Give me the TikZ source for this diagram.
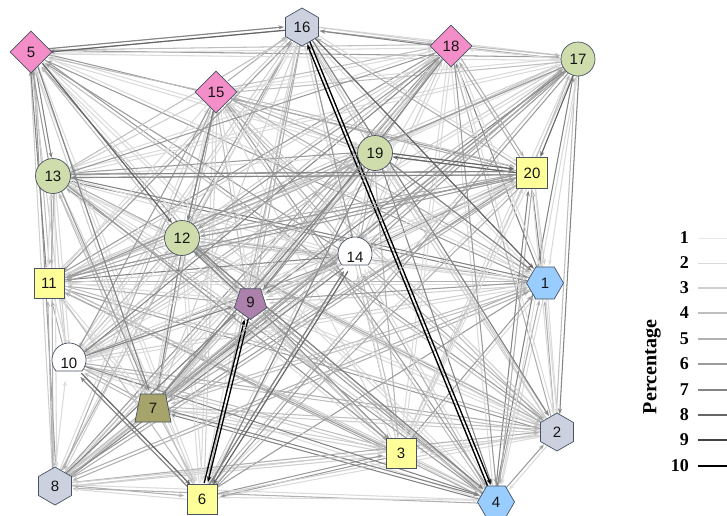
\documentclass[tikz,border=0pt]{standalone}
\usepackage{fontspec}
\setmainfont{Liberation Serif}
\newfontfamily\nodefont{Liberation Sans}
\usetikzlibrary{shapes.geometric,arrows.meta,calc}
\pgfdeclarelayer{bg}
\pgfsetlayers{bg,main}
\definecolor{bordercol}{RGB}{72,82,98}
\definecolor{gcol}{RGB}{206,221,171}
\definecolor{pcol}{RGB}{244,142,200}
\definecolor{ycol}{RGB}{255,255,153}
\definecolor{hcol}{RGB}{204,209,224}
\definecolor{bcol}{RGB}{153,204,255}
\definecolor{ucol}{RGB}{172,130,172}
\definecolor{ocol}{RGB}{166,164,106}
\colorlet{lv1}{black!9}
\colorlet{lv2}{black!14}
\colorlet{lv3}{black!19}
\colorlet{lv4}{black!25}
\colorlet{lv5}{black!31}
\colorlet{lv6}{black!39}
\colorlet{lv7}{black!48}
\colorlet{lv8}{black!60}
\colorlet{lv9}{black!74}
\colorlet{lv10}{black!100}
\begin{document}
\begin{tikzpicture}[x=1pt,y=-1pt,
  base/.style={draw=bordercol, line width=0.7pt, inner sep=0pt,
    font=\nodefont\fontsize{15}{15}\selectfont, text=black!92},
  circ/.style={base, circle, fill=gcol, minimum size=35pt},
  diam/.style={base, diamond, fill=pcol, minimum size=42pt},
  sq/.style={base, rectangle, fill=ycol, minimum size=30pt},
  hexv/.style={base, regular polygon, regular polygon sides=6,
    regular polygon rotate=30, fill=hcol, minimum size=38pt},
  hexh/.style={base, regular polygon, regular polygon sides=6,
    fill=bcol, minimum size=37pt},
  pent/.style={base, regular polygon, regular polygon sides=5,
    regular polygon rotate=180, fill=ucol, minimum size=34pt},
  trap/.style={base, trapezium, trapezium left angle=80,
    trapezium right angle=80, trapezium stretches=true,
    fill=ocol, minimum height=28pt, minimum width=36pt},
  dome/.style={circle, minimum size=34pt, inner sep=0pt,
    font=\nodefont\fontsize{15}{15}\selectfont, text=black!92},
  domeshape/.style={draw=bordercol, line width=0.7pt, fill=white},
  edge/.style={-{Stealth[length=5.5pt,width=4pt]}},
  legnum/.style={font=\bfseries\fontsize{18}{18}\selectfont, anchor=east, inner sep=0pt},
  legline/.style={line cap=butt}
]
\useasboundingbox (0,0) rectangle (727,515);
% nodes
\node[hexh] (n1) at (545,283) {1};
\node[hexv] (n2) at (557,432) {2};
\node[sq] (n3) at (401,453) {3};
\node[hexh] (n4) at (496,502) {4};
\node[diam] (n5) at (31,52) {5};
\node[sq] (n6) at (202,499) {6};
\node[trap] (n7) at (153,408) {7};
\node[hexv] (n8) at (55,486) {8};
\node[pent] (n9) at (250.5,302.5) {9};
\node[dome] (n10) at (69,363) {};
\node[sq] (n11) at (49,283) {11};
\node[circ] (n12) at (182,238) {12};
\node[circ] (n13) at (53,176) {13};
\node[dome] (n14) at (355,257) {};
\node[diam] (n15) at (216,92) {15};
\node[hexv] (n16) at (302,27) {16};
\node[circ, minimum size=34pt] (n17) at (578,59) {17};
\node[diam] (n18) at (451,46) {18};
\node[circ] (n19) at (375,153) {19};
\node[sq, minimum size=31pt] (n20) at (532,173) {20};
% dome shapes for 10 and 14
\foreach \d in {10,14}{
  \draw[domeshape] ([shift={(-40:17pt)}]$(n\d.center)+(0,-3)$)
    arc[start angle=-40, end angle=220, radius=17pt] -- cycle;
  \node[dome] at (n\d.center) {\d};
}
% edges
\begin{pgfonlayer}{bg}
\pgfmathsetseed{4711}
\foreach \i in {1,...,20}{
  \foreach \j in {1,...,20}{
    \ifnum\i=\j\relax\else
      \pgfmathsetmacro{\skipit}{rnd<0.08 ? 1 : 0}
      \ifdim\skipit pt>0.5pt\relax\else
        \pgfmathtruncatemacro{\lv}{2+int(5.4*rnd^1.6)}
        \draw[edge, draw=lv\lv, fill=lv\lv, line width=1.05pt]
          let \p1=(n\i.center), \p2=(n\j.center),
              \n1={atan2(\y2-\y1,\x2-\x1)} in
          ($(\p1)+(\n1:16pt)+(\n1+90:1.7pt)$) --
          ($(\p2)-(\n1:18pt)+(\n1+90:1.7pt)$);
      \fi
    \fi
  }
}
\foreach \a/\b/\l in {16/4/10, 4/16/10, 9/6/10, 6/9/10, 16/5/8, 5/16/7,
  19/20/8, 20/19/8, 13/20/7, 20/13/7, 17/20/8, 5/12/8, 15/12/7, 16/1/8,
  16/2/7, 19/6/7, 14/6/8, 6/14/7, 7/19/7, 10/6/8, 6/10/7, 12/4/7, 18/9/7,
  8/9/7, 10/9/7, 17/11/6, 20/12/6, 5/7/7, 13/7/6, 19/1/7, 17/6/6, 11/20/6,
  7/17/6, 9/3/6, 13/3/6, 9/12/7, 12/9/6}{
  \pgfmathsetmacro{\lw}{0.6+0.07*\l}
  \draw[edge, draw=lv\l, fill=lv\l, line width=\lw pt]
    let \p1=(n\a.center), \p2=(n\b.center),
        \n1={atan2(\y2-\y1,\x2-\x1)} in
    ($(\p1)+(\n1:16pt)+(\n1+90:1.7pt)$) --
    ($(\p2)-(\n1:18pt)+(\n1+90:1.7pt)$);
}
\end{pgfonlayer}
% legend
\node[font=\bfseries\fontsize{20}{20}\selectfont, rotate=90, inner sep=0pt] (legtitle) at (652,367) {Percentage};
\foreach \k/\yy in {1/238,2/263,3/288,4/313,5/339,6/364,7/390,8/415,9/440,10/466}{
  \node[legnum] (lg\k) at (689,\yy) {\k};
  \pgfmathsetmacro{\lw}{0.7+0.11*\k}
  \coordinate (le\k) at (727,\yy);
  \draw[legline, draw=lv\k, line width=\lw pt] ([xshift=9pt]lg\k.east) -- (le\k);
}
\end{tikzpicture}
\end{document}
